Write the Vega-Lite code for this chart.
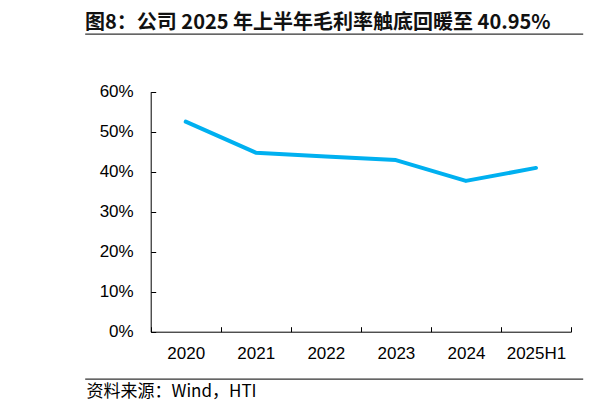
{
  "$schema": "https://vega.github.io/schema/vega-lite/v6.json",
  "description": "Company gross margin 2020-2025H1.",
  "autosize": "none",
  "width": 498,
  "height": 345,
  "padding": {"left": 85, "top": 34, "right": 28, "bottom": 34},
  "background": "white",
  "view": {"stroke": "#333333", "strokeWidth": 1.3, "strokeDash": [498, 345], "fill": null},
  "title": {
    "text": "图8：公司 2025 年上半年毛利率触底回暖至 40.95%",
    "font": "Noto Sans CJK SC",
    "fontSize": 20,
    "fontWeight": "bold",
    "color": "#111111",
    "anchor": "start",
    "frame": "group",
    "baseline": "alphabetic",
    "offset": 6,
    "dy": 21
  },
  "data": {
    "values": [
      {"period": "2020", "margin": 0.525},
      {"period": "2021", "margin": 0.4475},
      {"period": "2022", "margin": 0.438},
      {"period": "2023", "margin": 0.429},
      {"period": "2024", "margin": 0.377},
      {"period": "2025H1", "margin": 0.4095}
    ]
  },
  "mark": {"type": "line", "color": "#00B0F0", "strokeWidth": 4, "strokeCap": "round", "strokeJoin": "round"},
  "encoding": {
    "x": {
      "field": "period",
      "type": "ordinal",
      "sort": null,
      "scale": {"type": "band", "range": [65.7, 486], "paddingInner": 0, "paddingOuter": 0},
      "axis": {
        "orient": "bottom",
        "offset": -47.3,
        "tickBand": "extent",
        "tickSize": -5,
        "tickColor": "#000000",
        "domainColor": "#000000",
        "labelAngle": 0,
        "labelFont": "Liberation Sans",
        "labelFontSize": 17,
        "labelColor": "#000000",
        "labelBaseline": "middle",
        "labelPadding": 27,
        "grid": false,
        "title": "资料来源：Wind，HTI",
        "titleFont": "Noto Sans CJK SC",
        "titleFontSize": 17,
        "titleFontWeight": "normal",
        "titleColor": "#000000",
        "titleAlign": "left",
        "titleAnchor": "start",
        "titleBaseline": "middle",
        "titleX": 1,
        "titleY": 60
      }
    },
    "y": {
      "field": "margin",
      "type": "quantitative",
      "scale": {"domain": [0, 0.6], "range": [297.7, 57.7], "nice": false, "zero": true},
      "axis": {
        "orient": "left",
        "offset": -65.7,
        "values": [0, 0.1, 0.2, 0.3, 0.4, 0.5, 0.6],
        "format": ".0%",
        "tickSize": -5,
        "tickColor": "#000000",
        "domainColor": "#000000",
        "labelFont": "Liberation Sans",
        "labelFontSize": 17,
        "labelColor": "#000000",
        "labelPadding": 22.5,
        "grid": false,
        "title": null
      }
    }
  }
}
